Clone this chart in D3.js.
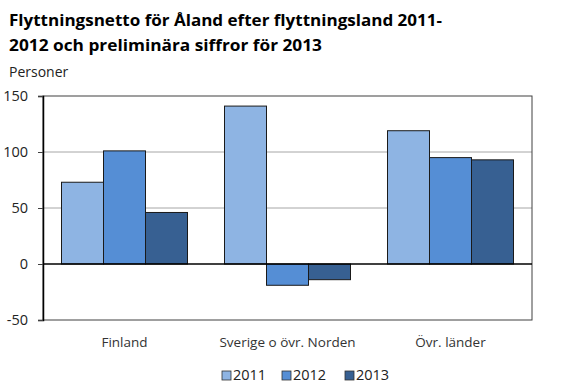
<!DOCTYPE html>
<html><head><meta charset="utf-8">
<script src="https://cdn.jsdelivr.net/npm/d3@7"></script>
<style>body{margin:0;background:#fff}svg{display:block}text{font-family:"Open Sans",sans-serif}</style>
</head><body><svg id="c" width="581" height="391"></svg>
<script>
const categories = ["Finland", "Sverige o övr. Norden", "Övr. länder"];
const seriesNames = ["2011", "2012", "2013"];
const values2011 = [73, 141, 119];
const values2012 = [101, -19, 95];
const values2013 = [46, -14, 93];
const tickValues = [-50, 0, 50, 100, 150];
const colors = ["#8EB4E3", "#558ED5", "#376092"];

const series = [values2011, values2012, values2013];
const svg = d3.select("#c");
const L = 43, R = 532, T = 96, B = 320;

svg.append("text").attr("x", 9).attr("y", 26).attr("font-size", 16.5).attr("font-weight", "bold").attr("fill", "#000")
  .attr("textLength", 433).attr("lengthAdjust", "spacingAndGlyphs")
  .text("Flyttningsnetto för Åland efter flyttningsland 2011-");
svg.append("text").attr("x", 9).attr("y", 51).attr("font-size", 16.5).attr("font-weight", "bold").attr("fill", "#000")
  .attr("textLength", 313).attr("lengthAdjust", "spacingAndGlyphs")
  .text("2012 och preliminära siffror för 2013");
svg.append("text").attr("x", 9).attr("y", 77).attr("font-size", 14).attr("fill", "#222").text("Personer");

const y = d3.scaleLinear().domain([-50, 150]).range([B, T]);
const x0 = d3.scaleBand().domain(categories).range([L, R]).paddingInner(0.227).paddingOuter(0.1135);
const x1 = d3.scaleBand().domain(seriesNames).range([0, x0.bandwidth()]);

// gridlines
svg.append("g").selectAll("line").data(tickValues.filter(v => v !== 0 && v !== -50 && v !== 150)).join("line")
  .attr("x1", L).attr("x2", R).attr("y1", d => y(d)).attr("y2", d => y(d)).attr("stroke", "#A6A6A6").attr("stroke-width", 1);
// plot border
svg.append("rect").attr("x", L).attr("y", T).attr("width", R - L).attr("height", B - T)
  .attr("fill", "none").attr("stroke", "#404040").attr("stroke-width", 1);

// bars
const g = svg.append("g");
categories.forEach((c, i) => {
  seriesNames.forEach((s, j) => {
    const v = series[j][i];
    g.append("rect")
      .attr("x", x0(c) + x1(s)).attr("width", x1.bandwidth())
      .attr("y", y(Math.max(0, v))).attr("height", Math.abs(y(v) - y(0)))
      .attr("fill", colors[j]).attr("stroke", "#1a1a1a").attr("stroke-width", 1);
  });
});

// y axis
const yAxis = d3.axisLeft(y).tickValues(tickValues).tickSize(5).tickPadding(10).tickFormat(d => String(d));
const ya = svg.append("g").attr("transform", `translate(${L},0)`).call(yAxis);
ya.select(".domain").attr("stroke", "#000").attr("stroke-width", 1.5);
ya.selectAll(".tick line").attr("stroke", "#404040");
ya.selectAll("text").attr("font-size", 14.5).attr("fill", "#222").attr("font-family", "'Open Sans',sans-serif");

// zero line
svg.append("line").attr("x1", L).attr("x2", R).attr("y1", y(0)).attr("y2", y(0)).attr("stroke", "#000").attr("stroke-width", 1.5);

// category labels
svg.append("g").selectAll("text").data(categories).join("text")
  .attr("x", d => x0(d) + x0.bandwidth() / 2).attr("y", 347).attr("text-anchor", "middle")
  .attr("font-size", 13.5).attr("fill", "#333").text(d => d);

// legend
const lx = [222, 282, 345];
const lg = svg.append("g");
seriesNames.forEach((s, j) => {
  lg.append("rect").attr("x", lx[j]).attr("y", 371).attr("width", 9).attr("height", 9)
    .attr("fill", colors[j]).attr("stroke", "#333").attr("stroke-width", 0.8);
  lg.append("text").attr("x", lx[j] + 11).attr("y", 380).attr("font-size", 14.5).attr("fill", "#222").text(s);
});
</script></body></html>
